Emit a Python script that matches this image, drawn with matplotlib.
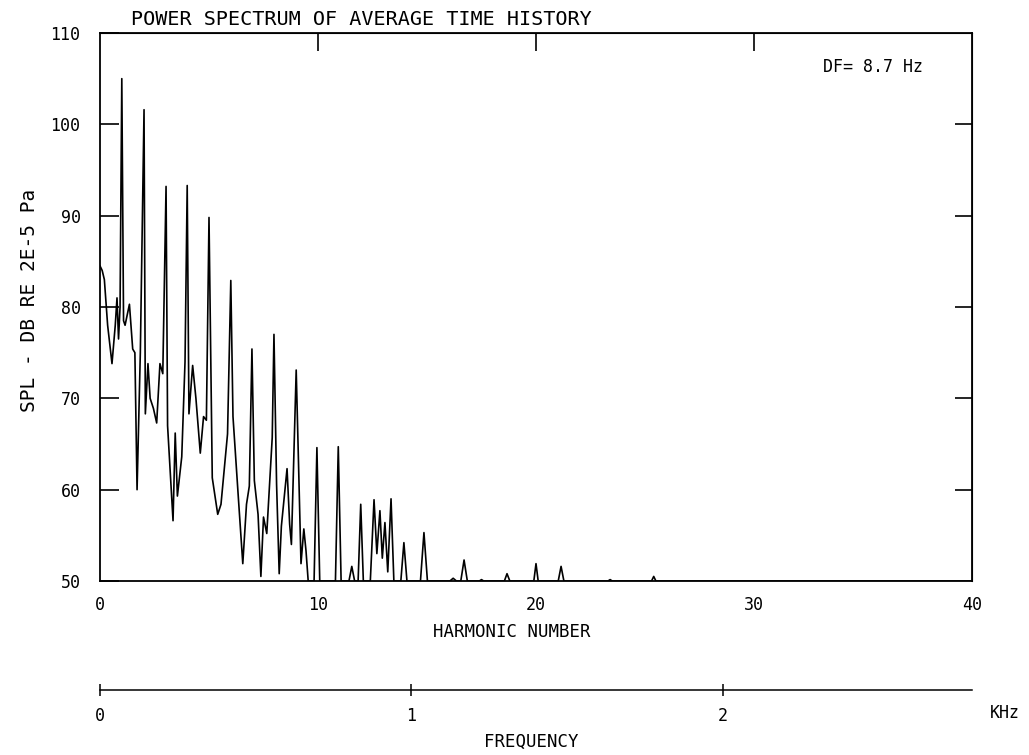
import numpy as np
import matplotlib
matplotlib.use("Agg")
import matplotlib.pyplot as plt

plt.rcParams['font.family'] = ['DejaVu Sans Mono']

# spectrum: harmonic number, level (dB re 2E-5 Pa)
harmonic = [0.00, 0.10, 0.20, 0.35, 0.55, 0.70, 0.78, 0.85, 0.92, 1.00,
            1.08, 1.15, 1.35, 1.50, 1.60, 1.70, 1.85, 2.02, 2.08, 2.20,
            2.30, 2.45, 2.60, 2.75, 2.88, 3.03, 3.10, 3.35, 3.45, 3.55,
            3.75, 3.90, 4.00, 4.08, 4.25, 4.40, 4.60, 4.75, 4.88, 5.00,
            5.15, 5.40, 5.55, 5.85, 6.00, 6.10, 6.35, 6.55, 6.72, 6.85,
            6.97, 7.08, 7.25, 7.38, 7.50, 7.65, 7.90, 7.98, 8.10, 8.22,
            8.32, 8.58, 8.70, 8.78, 9.00, 9.10, 9.22, 9.35, 9.45, 9.55,
            9.82, 9.95, 10.08, 10.80, 10.93, 11.06, 11.42, 11.55, 11.68, 11.84,
            11.96, 12.08, 12.40, 12.57, 12.70, 12.84, 12.95, 13.07, 13.20, 13.35,
            13.48, 13.80, 13.94, 14.08, 14.70, 14.86, 15.02, 16.05, 16.20, 16.35,
            16.55, 16.70, 16.85, 17.40, 17.50, 17.60, 18.55, 18.67, 18.80, 19.90,
            20.00, 20.10, 21.02, 21.15, 21.28, 23.30, 23.40, 23.50, 25.30, 25.40,
            25.50, 40.00]
level = [84.5, 84.0, 83.0, 78.0, 73.8, 78.0, 81.0, 76.5, 80.0, 105.0,
         78.5, 78.0, 80.3, 75.4, 75.0, 60.0, 75.0, 101.6, 68.3, 73.8,
         70.0, 68.9, 67.3, 73.8, 72.7, 93.2, 67.0, 56.6, 66.2, 59.3,
         63.6, 74.0, 93.3, 68.3, 73.6, 70.0, 64.0, 68.0, 67.6, 89.8,
         61.3, 57.3, 58.4, 66.1, 82.9, 68.0, 59.0, 51.9, 58.4, 60.4,
         75.4, 61.0, 57.3, 50.5, 57.0, 55.2, 65.7, 77.0, 60.6, 50.8,
         56.0, 62.3, 56.2, 54.0, 73.1, 63.5, 51.9, 55.7, 53.3, 50.0,
         50.0, 64.6, 50.0, 50.0, 64.7, 50.0, 50.0, 51.6, 50.0, 50.0,
         58.4, 50.0, 50.0, 58.9, 53.0, 57.7, 52.5, 56.4, 51.0, 59.0,
         50.0, 50.0, 54.2, 50.0, 50.0, 55.3, 50.0, 50.0, 50.3, 50.0,
         50.0, 52.3, 50.0, 50.0, 50.15, 50.0, 50.0, 50.8, 50.0, 50.0,
         51.9, 50.0, 50.0, 51.6, 50.0, 50.0, 50.15, 50.0, 50.0, 50.5,
         50.0, 50.0]

f0 = 70.0   # Hz per harmonic, from the kHz scale under the plot
y_ticks = [50, 60, 70, 80, 90, 100, 110]
x_ticks = [0, 10, 20, 30, 40]
khz_ticks = [0, 1, 2]

W, H = 1029, 755
fig = plt.figure(figsize=(W / 100, H / 100), dpi=100)

L, R, T, B = 100, 972, 33, 581
ax = fig.add_axes([L / W, 1 - B / H, (R - L) / W, (B - T) / H])
ax.plot(harmonic, level, color='black', lw=1.2)
ax.set_xlim(0, 40)
ax.set_ylim(50, 110)

for s in ax.spines.values():
    s.set_linewidth(1.3)

ax.set_xticks(x_ticks)
ax.set_yticks(y_ticks)
ax.tick_params(axis='x', direction='inout', length=10, width=1.2,
               labelsize=12, pad=6)
ax.tick_params(axis='y', direction='in', length=14, width=1.2, labelsize=12,
               pad=14)
# ends of the frame carry no tick marks
for t in ax.xaxis.get_major_ticks():
    if t.get_loc() in (0, 40):
        t.tick1line.set_visible(False)
for t in ax.yaxis.get_major_ticks():
    if t.get_loc() in (50, 110):
        t.tick1line.set_visible(False)

top = ax.secondary_xaxis('top')
top.set_xticks(x_ticks[1:-1])
top.tick_params(direction='in', length=13, width=1.2, labeltop=False)
rgt = ax.secondary_yaxis('right')
rgt.set_yticks(y_ticks[1:-1])
rgt.tick_params(direction='in', length=12, width=1.2, labelright=False)

fig.text(30 / W, 1 - 300 / H, 'SPL - DB RE 2E-5 Pa', fontsize=14,
         rotation=90, ha='center', va='center')
ax.text(1.4, 110.4, 'POWER SPECTRUM OF AVERAGE TIME HISTORY', fontsize=14.5,
        ha='left', va='bottom')
fig.text(823 / W, 1 - 67 / H, 'DF= 8.7 Hz', fontsize=12,
         ha='left', va='center')
fig.text(512 / W, 1 - 632 / H, 'HARMONIC NUMBER', fontsize=12.5,
         ha='center', va='center')

# frequency scale under the plot
fy = 690
fax = fig.add_axes([L / W, 1 - fy / H, (R - L) / W, 0.0001])
fax.set_xlim(0, 40 * f0 / 1000)
fax.set_ylim(0, 1)
for k in ['left', 'right', 'top']:
    fax.spines[k].set_visible(False)
fax.spines['bottom'].set_linewidth(1.1)
fax.set_yticks([])
fax.set_xticks(khz_ticks)
fax.set_xticklabels([str(k) for k in khz_ticks])
fax.tick_params(axis='x', direction='inout', length=9, width=1.1,
                labelsize=12, pad=8)
fig.text(1005 / W, 1 - 713 / H, 'KHz', fontsize=12,
         ha='center', va='center')
fig.text(531 / W, 1 - 742 / H, 'FREQUENCY', fontsize=12.5,
         ha='center', va='center')

fig.savefig('out.png', dpi=100)
